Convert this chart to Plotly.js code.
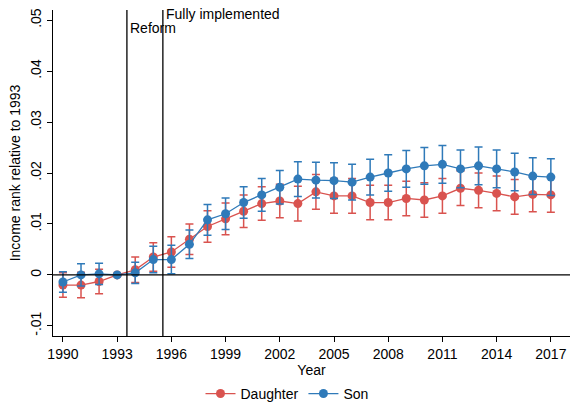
<!DOCTYPE html>
<html>
<head>
<script src="https://cdn.plot.ly/plotly-3.0.1.min.js"></script>
<style>body{margin:0}#chart{width:574px;height:412px}</style>
</head>
<body>
<div id="chart"></div>
<script>
var years = Array.from(Array(28).keys()).map(function (i) { return 1990 + i })
var daughter = [-0.0020, -0.0020, -0.0013, 0, 0.0010, 0.0035, 0.0045, 0.0070, 0.0095, 0.0110, 0.0125, 0.0140, 0.0145, 0.0140,
    0.0163, 0.0155, 0.0155, 0.0142, 0.0142, 0.0150, 0.0147, 0.0155, 0.0170, 0.0166, 0.0160, 0.0153, 0.0158, 0.0157]
var daughterErr = [0.0024, 0.0025, 0.0024, 0, 0.0025, 0.0028, 0.0030, 0.0030, 0.0031, 0.0031, 0.0032, 0.0033, 0.0033, 0.0034,
    0.0034, 0.0034, 0.0034, 0.0034, 0.0034, 0.0034, 0.0034, 0.0034, 0.0034, 0.0034, 0.0034, 0.0034, 0.0034, 0.0034]
var son = [-0.0014, 0, 0.0002, 0, 0.0004, 0.0030, 0.0030, 0.0060, 0.0108, 0.0120, 0.0142, 0.0157, 0.0172, 0.0188,
    0.0186, 0.0185, 0.0182, 0.0192, 0.0200, 0.0208, 0.0214, 0.0217, 0.0208, 0.0214, 0.0208, 0.0202, 0.0194, 0.0192]
var sonErr = [0.0020, 0.0022, 0.0021, 0, 0.0021, 0.0026, 0.0028, 0.0028, 0.0030, 0.0031, 0.0031, 0.0032, 0.0033, 0.0034,
    0.0035, 0.0035, 0.0035, 0.0035, 0.0036, 0.0036, 0.0036, 0.0037, 0.0037, 0.0037, 0.0037, 0.0037, 0.0036, 0.0036]
var yTicks = [-0.01, 0, 0.01, 0.02, 0.03, 0.04, 0.05]
var yLabels = ['-.01', '0', '.01', '.02', '.03', '.04', '.05']
var xTicks = [1990, 1993, 1996, 1999, 2002, 2005, 2008, 2011, 2014, 2017]

function series(name, y, err, color) {
    return {
        x: years, y: y, name: name, mode: 'lines+markers', type: 'scatter',
        line: {color: color, width: 1.3},
        marker: {color: color, size: 9},
        error_y: {type: 'data', array: err, visible: true, color: color, thickness: 1.5, width: 4}
    }
}

var data = [
    series('Daughter', daughter, daughterErr, '#d9534f'),
    series('Son', son, sonErr, '#2f7ab9')
]

var layout = {
    width: 574, height: 412,
    margin: {l: 53, r: 4, t: 10, b: 76},
    font: {family: 'Liberation Sans, Arial, sans-serif', size: 14, color: '#000'},
    paper_bgcolor: '#fff', plot_bgcolor: '#fff',
    showlegend: true,
    legend: {orientation: 'h', x: 0.5, xanchor: 'center', xref: 'container', yref: 'container', y: 0.005, yanchor: 'bottom', font: {size: 14}},
    xaxis: {
        range: [1989.45, 2018.06], tickvals: xTicks, showgrid: false, zeroline: false, automargin: false,
        showline: true, linecolor: '#000', ticks: 'outside', ticklen: 5, tickcolor: '#000',
        title: {text: 'Year', standoff: 0, font: {size: 14}}
    },
    yaxis: {
        range: [-0.012, 0.052], tickvals: yTicks, ticktext: yLabels, tickangle: -90, automargin: false,
        showgrid: false, zeroline: false, showline: true, linecolor: '#000',
        ticks: 'outside', ticklen: 5, tickcolor: '#000',
        title: {text: 'Income rank relative to 1993', standoff: 4, font: {size: 14}}
    },
    shapes: [
        {type: 'line', xref: 'x', yref: 'paper', x0: 1993.54, x1: 1993.54, y0: 0, y1: 1, line: {color: '#000', width: 1.3}},
        {type: 'line', xref: 'x', yref: 'paper', x0: 1995.53, x1: 1995.53, y0: 0, y1: 1, line: {color: '#000', width: 1.3}},
        {type: 'line', xref: 'paper', yref: 'y', x0: 0, x1: 1, y0: 0, y1: 0, line: {color: '#000', width: 1.3}}
    ],
    annotations: [
        {x: 1993.6, y: 0.0485, xref: 'x', yref: 'y', text: 'Reform', showarrow: false, xanchor: 'left', font: {size: 14}},
        {x: 1995.6, y: 0.0512, xref: 'x', yref: 'y', text: 'Fully implemented', showarrow: false, xanchor: 'left', font: {size: 14}}
    ]
}

Plotly.newPlot('chart', data, layout, {displayModeBar: false})
</script>
</body>
</html>
